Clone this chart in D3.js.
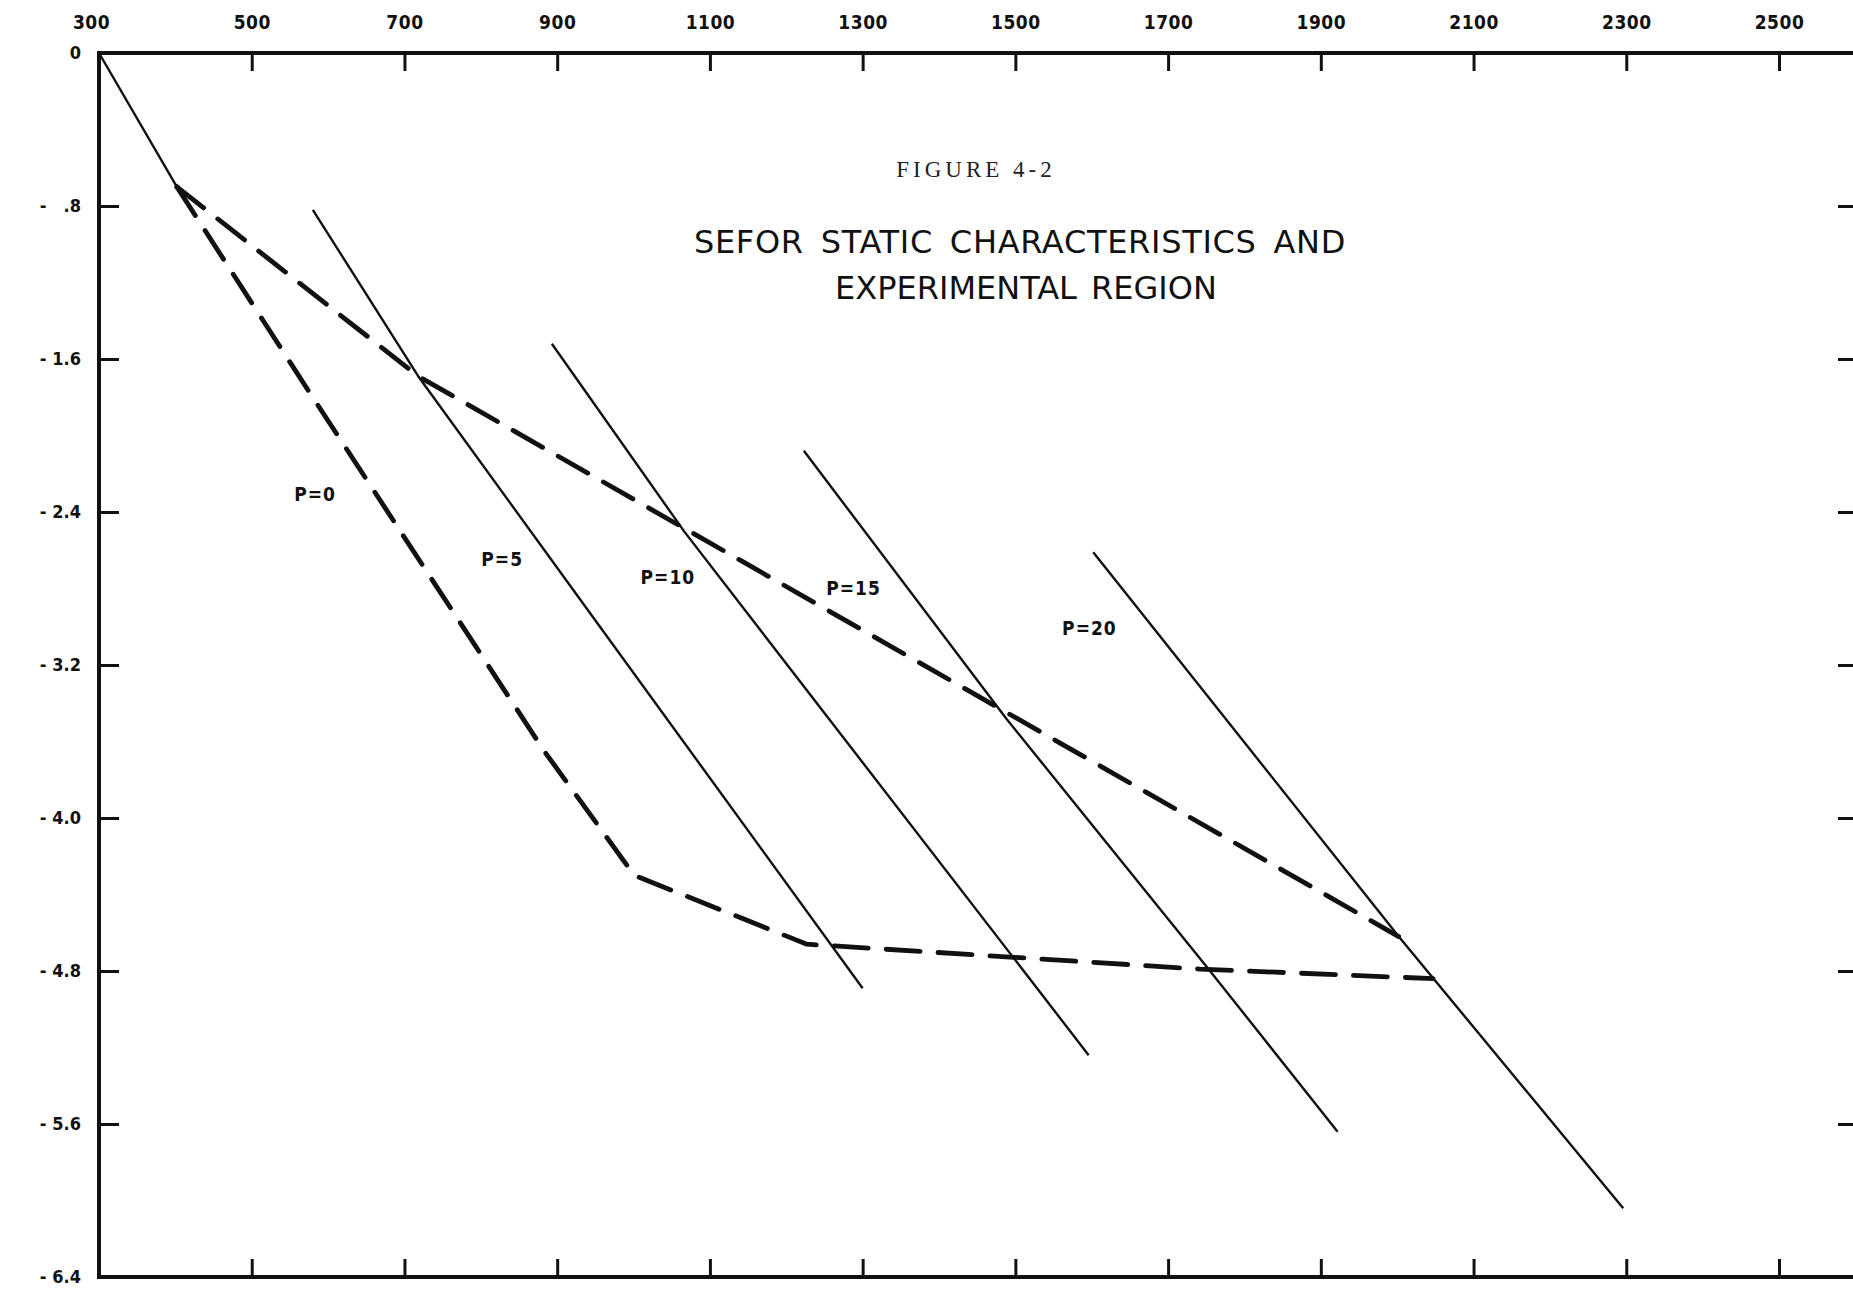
<!DOCTYPE html>
<html>
<head>
<meta charset="utf-8">
<script src="https://cdn.jsdelivr.net/npm/d3@7"></script>
<style>
  html, body { margin: 0; padding: 0; background: #ffffff; }
  svg { display: block; }
  .tick text { font-family: "DejaVu Sans Condensed", "DejaVu Sans", sans-serif; font-weight: bold; font-stretch: condensed; fill: #111; }
</style>
</head>
<body>
<svg id="chart" width="1853" height="1292"></svg>
<script>
// ---------- data ----------
const xTicks = [300, 500, 700, 900, 1100, 1300, 1500, 1700, 1900, 2100, 2300, 2500];
const yTicks = [0, -0.8, -1.6, -2.4, -3.2, -4.0, -4.8, -5.6, -6.4];

// solid static characteristics
const originLine = [[300, 0], [402, -0.70]];
const p5  = [[580, -0.82], [718, -1.69], [956, -3.00], [1300, -4.89]];
const p10 = [[893, -1.52], [1066, -2.50], [1596, -5.24]];
const p15 = [[1223, -2.08], [1488, -3.48], [1751, -4.78], [1922, -5.64]];
const p20 = [[1602, -2.61], [2002, -4.62], [2296, -6.04]];

// dashed boundaries of the experimental region
const upperBound = [[402, -0.70], [718, -1.69], [2002, -4.62]];
const lowerBound = [[402, -0.70], [570, -1.74], [883, -3.65], [1001, -4.30], [1227, -4.66], [1742, -4.79], [2047, -4.84]];

// curve labels (anchor in data units)
const labelNames = ["P=0", "P=5", "P=10", "P=15", "P=20"];
const labelX = [583, 828, 1045, 1288, 1597];
const labelY = [-2.31, -2.65, -2.74, -2.80, -3.01];

const figureLabel = "FIGURE 4-2";
const titleLines = ["SEFOR STATIC CHARACTERISTICS AND", "EXPERIMENTAL REGION"];

(function draw() {
  const svg = d3.select("#chart");
  svg.append("rect").attr("width", 1853).attr("height", 1292).attr("fill", "#ffffff");

  const mLeft = 99, mTop = 53, mBottom = 1277, rightEdge = 1853;
  const x = d3.scaleLinear().domain([300, 2500]).range([mLeft, 1779]);
  const y = d3.scaleLinear().domain([0, -6.4]).range([mTop, mBottom]);

  const fmtY = v => {
    if (v === 0) return "0";
    const a = Math.abs(v);
    return a < 1 ? "." + Math.round(a * 10) : a.toFixed(1);
  };

  // top axis with labels, ticks pointing down
  const gTop = svg.append("g").attr("transform", `translate(0,${mTop})`)
    .call(d3.axisTop(x).tickValues(xTicks).tickSizeInner(-18).tickSizeOuter(0).tickPadding(24).tickFormat(d3.format("d")));
  gTop.select(".domain").remove();
  gTop.selectAll(".tick line").attr("stroke", "#111").attr("stroke-width", 3);
  gTop.selectAll(".tick text").attr("font-size", 19).attr("letter-spacing", 0.5)
    .attr("dx", d => d === 300 ? -8 : 0);
  gTop.selectAll(".tick").filter(d => d === 300).select("line").remove();

  // left axis with labels, ticks pointing right
  const gLeft = svg.append("g").attr("transform", `translate(${mLeft},0)`)
    .call(d3.axisLeft(y).tickValues(yTicks).tickSizeInner(-20).tickSizeOuter(0).tickPadding(18).tickFormat(fmtY));
  gLeft.select(".domain").remove();
  gLeft.selectAll(".tick line").attr("stroke", "#111").attr("stroke-width", 3);
  gLeft.selectAll(".tick").filter(d => d === 0 || d === -6.4).select("line").remove();
  gLeft.selectAll(".tick text").attr("font-size", 18);
  gLeft.selectAll(".tick").filter(d => d !== 0).append("text")
    .attr("x", -56).attr("dy", "0.32em").attr("text-anchor", "middle")
    .attr("font-size", 18).text("-");

  // bottom axis, ticks pointing up, no labels
  const gBot = svg.append("g").attr("transform", `translate(0,${mBottom})`)
    .call(d3.axisBottom(x).tickValues(xTicks.slice(1)).tickSizeInner(-18).tickSizeOuter(0).tickFormat(""));
  gBot.select(".domain").remove();
  gBot.selectAll(".tick line").attr("stroke", "#111").attr("stroke-width", 3);

  // right axis (frame is just beyond the picture), ticks pointing left
  const gRight = svg.append("g").attr("transform", `translate(1862,0)`)
    .call(d3.axisRight(y).tickValues(yTicks.slice(1, -1)).tickSizeInner(-24).tickSizeOuter(0).tickFormat(""));
  gRight.select(".domain").remove();
  gRight.selectAll(".tick line").attr("stroke", "#111").attr("stroke-width", 3);

  // frame lines
  const frame = svg.append("g").attr("stroke", "#111").attr("stroke-width", 4).attr("stroke-linecap", "square");
  frame.append("line").attr("x1", mLeft).attr("x2", rightEdge).attr("y1", mTop).attr("y2", mTop);
  frame.append("line").attr("x1", mLeft).attr("x2", rightEdge).attr("y1", mBottom).attr("y2", mBottom);
  frame.append("line").attr("x1", mLeft).attr("x2", mLeft).attr("y1", mTop).attr("y2", mBottom);

  // curves
  const line = d3.line().x(d => x(d[0])).y(d => y(d[1]));
  const solid = [originLine, p5, p10, p15, p20];
  svg.append("g").selectAll("path.solid").data(solid).join("path")
    .attr("class", "solid").attr("d", line)
    .attr("fill", "none").attr("stroke", "#111").attr("stroke-width", 2.4).attr("stroke-linejoin", "round");

  svg.append("g").selectAll("path.dash").data([upperBound, lowerBound]).join("path")
    .attr("class", "dash").attr("d", line)
    .attr("fill", "none").attr("stroke", "#111").attr("stroke-width", 4.8)
    .attr("stroke-dasharray", "34,18").attr("stroke-linecap", "round").attr("stroke-linejoin", "round");

  // curve labels
  svg.append("g").selectAll("text").data(labelNames).join("text")
    .attr("x", (d, i) => x(labelX[i])).attr("y", (d, i) => y(labelY[i]))
    .attr("dy", "0.35em").attr("text-anchor", "middle")
    .attr("font-family", "'DejaVu Sans Condensed', 'DejaVu Sans', sans-serif")
    .attr("font-weight", "bold").attr("font-size", 19).attr("letter-spacing", 1)
    .attr("fill", "#111").text(d => d);

  // titles
  svg.append("text").attr("x", 976).attr("y", 169).attr("dy", "0.35em").attr("text-anchor", "middle")
    .attr("font-family", "'Liberation Serif', serif").attr("font-size", 23).attr("letter-spacing", 4)
    .attr("fill", "#222").text(figureLabel);

  svg.append("g").selectAll("text").data(titleLines).join("text")
    .attr("x", (d, i) => i === 0 ? 1020 : 1026).attr("y", (d, i) => i === 0 ? 241 : 287)
    .attr("dy", "0.36em").attr("text-anchor", "middle")
    .attr("font-family", "'DejaVu Sans', sans-serif").attr("font-size", 32)
    .attr("letter-spacing", (d, i) => i === 0 ? 0.7 : 0).attr("word-spacing", (d, i) => i === 0 ? 6 : 4)
    .attr("fill", "#111").text(d => d);
})();
</script>
</body>
</html>
